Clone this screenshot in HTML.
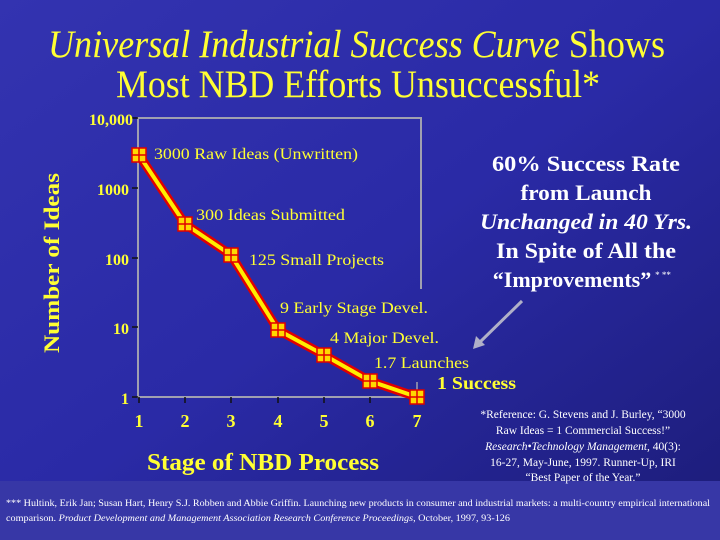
<!DOCTYPE html>
<html><head><meta charset="utf-8"><style>
html,body{margin:0;padding:0;width:720px;height:540px;overflow:hidden}
</style></head><body>
<svg width="720" height="540" viewBox="0 0 720 540" xmlns="http://www.w3.org/2000/svg">
<defs>
<linearGradient id="bg" x1="0" y1="0" x2="1" y2="1">
<stop offset="0" stop-color="#3333b0"/>
<stop offset="0.5" stop-color="#2a2aa6"/>
<stop offset="1" stop-color="#1c1c78"/>
</linearGradient>
<g id="m"><rect x="-7" y="-7" width="14" height="14" fill="#ffd800" stroke="#e00000" stroke-width="1.5"/><path d="M0 -7V7M-7 0H7" stroke="#e00000" stroke-width="1.5"/></g>
</defs>
<rect width="720" height="540" fill="url(#bg)"/>
<rect y="481" width="720" height="59" fill="#3737a6"/>
<g font-family="Liberation Serif, serif" fill="#ffff33">
<text x="48" y="57" font-size="39" textLength="617" lengthAdjust="spacingAndGlyphs"><tspan font-style="italic">Universal Industrial Success Curve</tspan> Shows</text>
<text x="116" y="97" font-size="39" textLength="484" lengthAdjust="spacingAndGlyphs">Most NBD Efforts Unsuccessful*</text>
</g>
<path d="M421 289V118H138V397H417" fill="none" stroke="#a0a0b0" stroke-width="2"/>
<path d="M417 397V382" stroke="#a0a0b0" stroke-width="1.5"/>
<g stroke="#111" stroke-width="1.5">
<path d="M132 118H138M132 188H138M132 258H138M132 327H138M132 397H138"/>
<path d="M139 397V403M185 397V403M231 397V403M278 397V403M324 397V403M370 397V403M417 397V403"/>
</g>
<g font-family="Liberation Serif, serif" font-weight="bold" fill="#ffff33" font-size="16" text-anchor="end">
<text x="133" y="125">10,000</text>
<text x="129" y="195">1000</text>
<text x="129" y="265">100</text>
<text x="129" y="334">10</text>
<text x="129" y="404">1</text>
</g>
<g font-family="Liberation Serif, serif" font-weight="bold" fill="#ffff33" font-size="18" text-anchor="middle">
<text x="139" y="427">1</text><text x="185" y="427">2</text><text x="231" y="427">3</text><text x="278" y="427">4</text><text x="324" y="427">5</text><text x="370" y="427">6</text><text x="417" y="427">7</text>
</g>
<polyline points="139,155 185,224 231,255 278,330 324,355 370,381 417,397" fill="none" stroke="#e00000" stroke-width="9" stroke-linejoin="round"/>
<polyline points="139,155 185,224 231,255 278,330 324,355 370,381 417,397" fill="none" stroke="#ffee00" stroke-width="4" stroke-linejoin="round"/>
<use href="#m" x="139" y="155"/><use href="#m" x="185" y="224"/><use href="#m" x="231" y="255"/><use href="#m" x="278" y="330"/><use href="#m" x="324" y="355"/><use href="#m" x="370" y="381"/><use href="#m" x="417" y="397"/>
<g font-family="Liberation Serif, serif" fill="#ffff33" font-size="16">
<text x="154" y="159" textLength="204" lengthAdjust="spacingAndGlyphs">3000 Raw Ideas (Unwritten)</text>
<text x="196" y="220" textLength="149" lengthAdjust="spacingAndGlyphs">300 Ideas Submitted</text>
<text x="249" y="265" textLength="135" lengthAdjust="spacingAndGlyphs">125 Small Projects</text>
<text x="280" y="313" textLength="148" lengthAdjust="spacingAndGlyphs">9 Early Stage Devel.</text>
<text x="330" y="343" textLength="109" lengthAdjust="spacingAndGlyphs">4 Major Devel.</text>
<text x="374" y="368" textLength="95" lengthAdjust="spacingAndGlyphs">1.7 Launches</text>
<text x="437" y="389" font-size="18" font-weight="bold" textLength="79" lengthAdjust="spacingAndGlyphs">1 Success</text>
</g>
<text transform="translate(59,263) rotate(-90)" text-anchor="middle" font-family="Liberation Serif, serif" font-weight="bold" font-size="22" fill="#ffff33" textLength="180" lengthAdjust="spacingAndGlyphs">Number of Ideas</text>
<text x="263" y="470" text-anchor="middle" font-family="Liberation Serif, serif" font-weight="bold" font-size="24" fill="#ffff33" textLength="232" lengthAdjust="spacingAndGlyphs">Stage of NBD Process</text>
<g font-family="Liberation Serif, serif" font-weight="bold" fill="#ffffff" font-size="22" text-anchor="middle">
<text x="586" y="171" textLength="188" lengthAdjust="spacingAndGlyphs">60% Success Rate</text>
<text x="586" y="200" textLength="131" lengthAdjust="spacingAndGlyphs">from Launch</text>
<text x="586" y="229" font-style="italic" textLength="212" lengthAdjust="spacingAndGlyphs">Unchanged in 40 Yrs.</text>
<text x="586" y="258" textLength="180" lengthAdjust="spacingAndGlyphs">In Spite of All the</text>
<text x="572" y="287">“Improvements”</text>
<text x="663" y="278" font-size="9" font-weight="normal">* **</text>
</g>
<path d="M522 301L478 344" stroke="#b0b0c8" stroke-width="3"/>
<path d="M473 349L476 336L485 345Z" fill="#b0b0c8"/>
<g font-family="Liberation Serif, serif" fill="#ffffff" font-size="11.5" text-anchor="middle">
<text x="583" y="418">*Reference: G. Stevens and J. Burley, “3000</text>
<text x="583" y="434">Raw Ideas = 1 Commercial Success!”</text>
<text x="583" y="450"><tspan font-style="italic">Research•Technology Management,</tspan> 40(3):</text>
<text x="583" y="466">16-27, May-June, 1997.  Runner-Up, IRI</text>
<text x="583" y="481">“Best Paper of the Year.”</text>
</g>
<g font-family="Liberation Serif, serif" fill="#ffffff" font-size="9">
<text x="6" y="506" textLength="704" lengthAdjust="spacingAndGlyphs">*** Hultink, Erik Jan; Susan Hart, Henry S.J. Robben and Abbie Griffin.  Launching new products in consumer and industrial markets: a multi-country empirical international</text>
<text x="6" y="521" textLength="504" lengthAdjust="spacingAndGlyphs">comparison.  <tspan font-style="italic">Product Development and Management Association Research Conference Proceedings</tspan>, October, 1997, 93-126</text>
</g>
</svg>
</body></html>
